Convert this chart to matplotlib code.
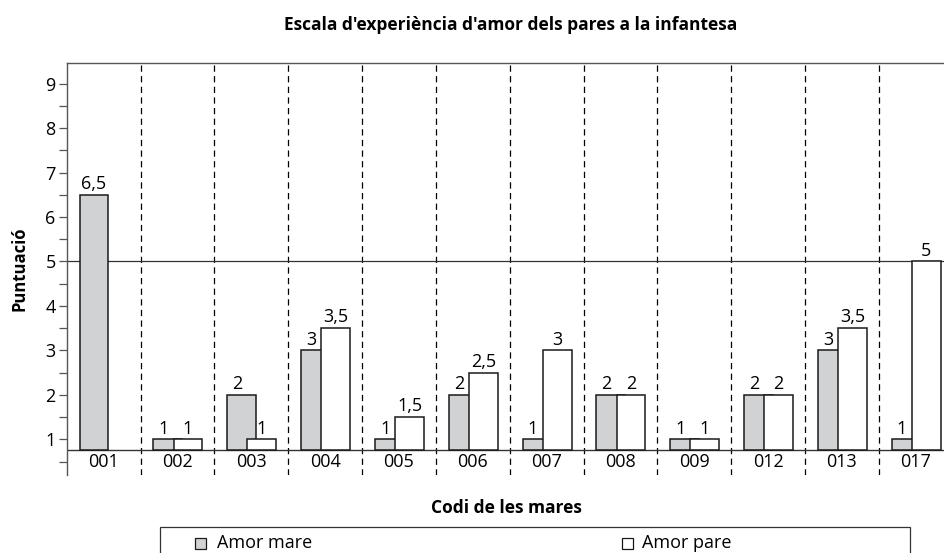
import numpy as np
import matplotlib
matplotlib.use('Agg')
import matplotlib.pyplot as plt
from matplotlib.patches import Rectangle

plt.rcParams['font.family'] = ['Open Sans', 'DejaVu Sans']

codes = ['001', '002', '003', '004', '005', '006', '007', '008', '009', '012', '013', '017']
amor_mare = [6.5, 1, 2, 3, 1, 2, 1, 2, 1, 2, 3, 1]
amor_pare = [np.nan, 1, 1, 3.5, 1.5, 2.5, 3, 2, 1, 2, 3.5, 5]
yticks = [1, 2, 3, 4, 5, 6, 7, 8, 9]
ref_line = 5

base = 0.77
bw = 0.39
off_mare = -0.325
off_pare = -0.052
grey = '#d1d2d4'
fs = 13

fig = plt.figure(figsize=(9.45, 5.53), dpi=100)
ax = fig.add_axes([66.7 / 945, 78 / 553, 886 / 945, 412.3 / 553])
x = np.arange(len(codes))

def fmt(v):
    return ('%g' % v).replace('.', ',')

mare_h = np.array(amor_mare) - base
pare_h = np.array(amor_pare) - base
ax.bar(x + off_mare, mare_h, bw, bottom=base, align='edge', color=grey,
       edgecolor='#1a1a1a', linewidth=1.1, zorder=3)
ax.bar(x + off_pare, pare_h, bw, bottom=base, align='edge', color='white',
       edgecolor='#1a1a1a', linewidth=1.1, zorder=4)

for i in range(len(codes)):
    m, p = amor_mare[i], amor_pare[i]
    if np.isnan(p):
        cx = i + off_mare + bw / 2
    else:
        cx = i + (off_mare + off_pare) / 2
    ax.text(cx, m + 0.04, fmt(m), ha='center', va='bottom', fontsize=fs, zorder=5)
    if not np.isnan(p):
        ax.text(i + off_pare + bw / 2, p + 0.04, fmt(p), ha='center', va='bottom',
                fontsize=fs, zorder=5)
    ax.text(i, 0.49, codes[i], ha='center', va='center', fontsize=fs)

for b in np.arange(0.5, len(codes) - 0.5, 1):
    ax.axvline(b, color='black', lw=0.9, ls=(0, (5, 3.5)), zorder=1)

ax.axhline(base, color='#333333', lw=1.0, zorder=2)
ax.axhline(ref_line, color='#333333', lw=0.9, zorder=2)

ax.set_xlim(-0.5, len(codes) - 0.5)
ax.set_ylim(0.197, 9.47)
ax.set_xticks([])
ax.set_yticks(yticks)
ax.set_yticks(np.arange(0.5, 9.0, 1), minor=True)
ax.tick_params(axis='y', which='major', length=6, width=0.9, pad=2, labelsize=fs,
               color='#555555')
ax.tick_params(axis='y', which='minor', length=6, width=0.9, color='#555555')
ax.spines['bottom'].set_visible(False)
for s in ['left', 'top', 'right']:
    ax.spines[s].set_color('#555555')
    ax.spines[s].set_linewidth(1.0)

ax.set_ylabel('Puntuació', fontsize=12, fontweight='bold', labelpad=12)
fig.text(511 / 945, 1 - 25 / 553, "Escala d'experiència d'amor dels pares a la infantesa",
         ha='center', va='center', fontsize=12.5, fontweight='bold')
fig.text(506 / 945, 1 - 508 / 553, 'Codi de les mares', ha='center', va='center',
         fontsize=12.5, fontweight='bold')

# legend box
fig.patches.append(Rectangle((160 / 945, -0.05), 750 / 945, (0.05 + 1 - 527 / 553),
                             transform=fig.transFigure, facecolor='white',
                             edgecolor='#333333', lw=0.9))
fig.patches.append(Rectangle((195 / 945, 1 - 549 / 553), 11 / 945, 11 / 553,
                             transform=fig.transFigure, facecolor=grey,
                             edgecolor='#1a1a1a', lw=0.9))
fig.text(217 / 945, 1 - 543 / 553, 'Amor mare', ha='left', va='center', fontsize=fs)
fig.patches.append(Rectangle((622 / 945, 1 - 549 / 553), 11 / 945, 11 / 553,
                             transform=fig.transFigure, facecolor='white',
                             edgecolor='#1a1a1a', lw=0.9))
fig.text(642 / 945, 1 - 543 / 553, 'Amor pare', ha='left', va='center', fontsize=fs)

fig.savefig('out.png', dpi=100)
